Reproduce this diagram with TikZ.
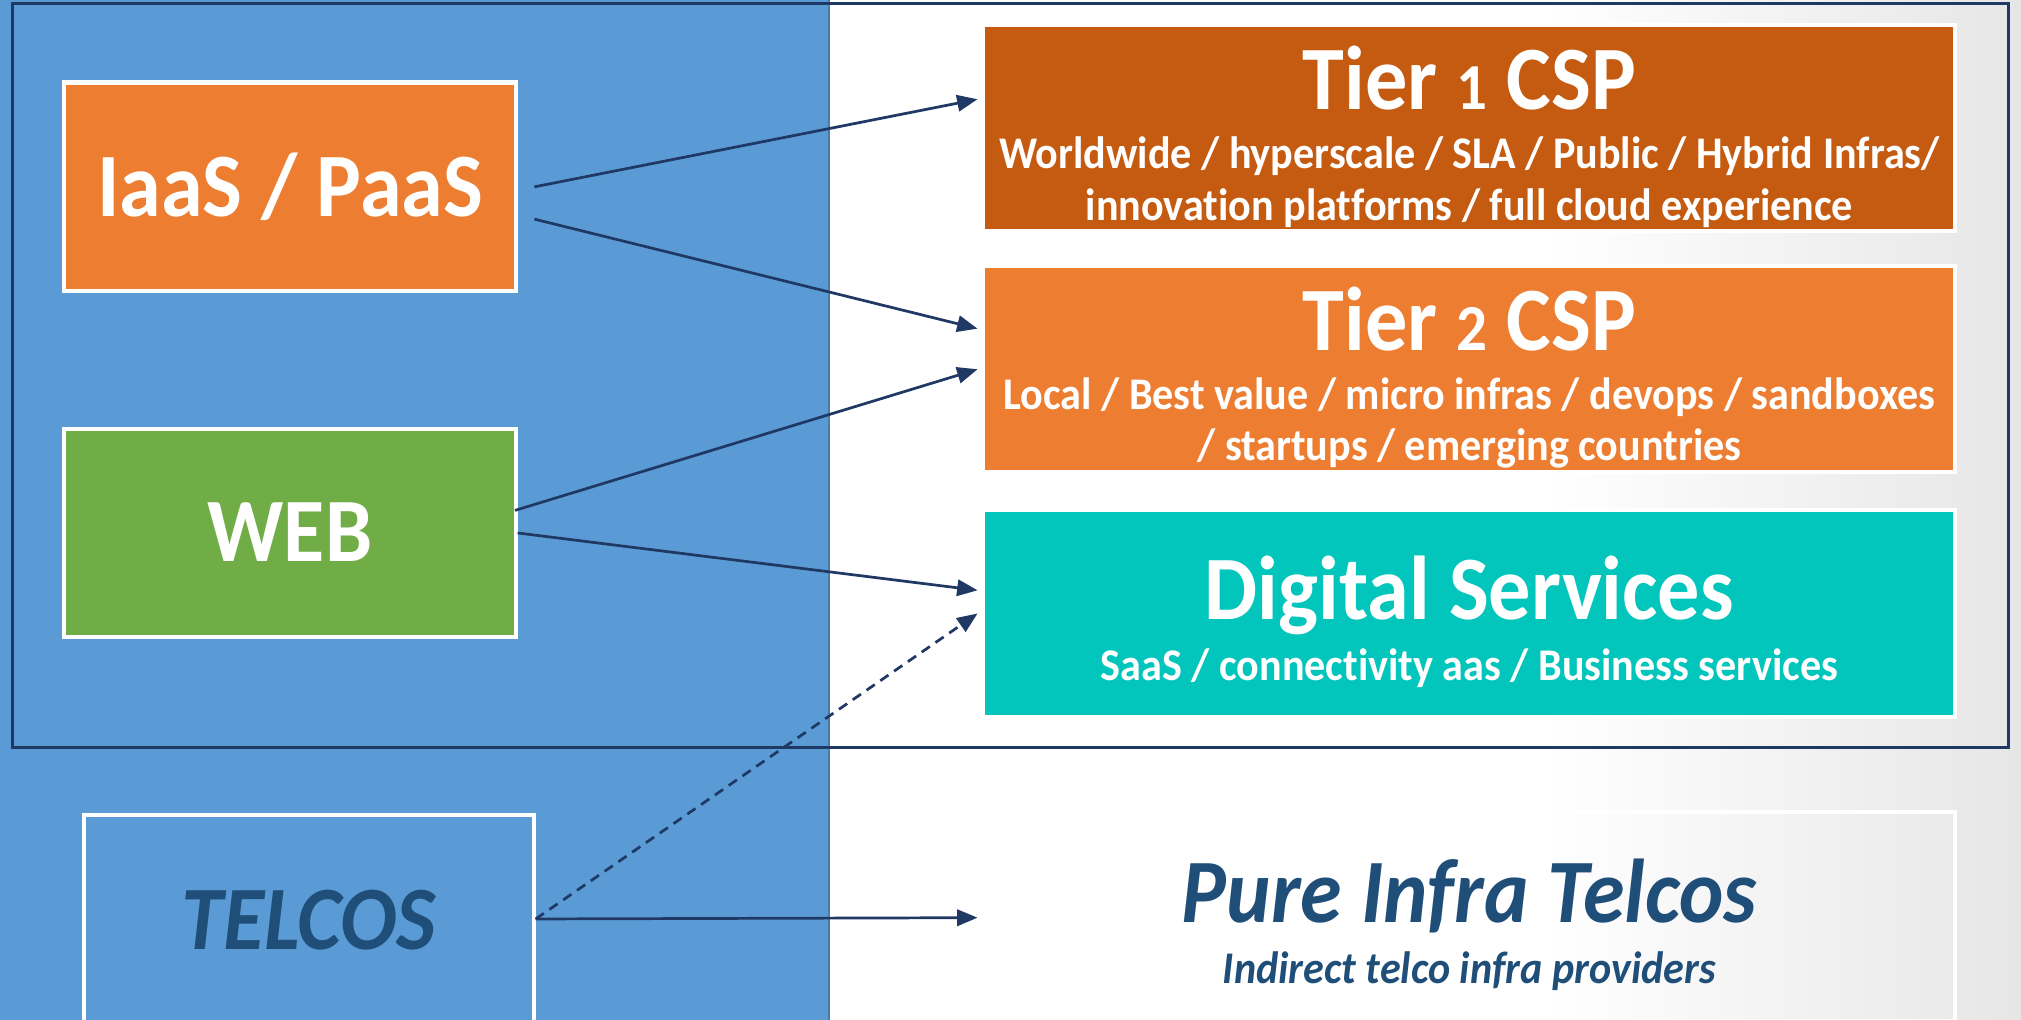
\documentclass[tikz,border=0pt]{standalone}
\usepackage{fontspec}
\setmainfont{Carlito}[FakeStretch=0.93, Ligatures=NoCommon]
\usetikzlibrary{arrows.meta}

\definecolor{panelblue}{HTML}{5B9BD5}
\definecolor{framenavy}{HTML}{1F3864}
\definecolor{textnavy}{HTML}{1F4E79}
\definecolor{rustorange}{HTML}{C55A11}
\definecolor{brightorange}{HTML}{ED7D31}
\definecolor{webgreen}{HTML}{70AD47}
\definecolor{digiteal}{HTML}{02C5BC}

\pgfdeclarehorizontalshading{rightfade}{100bp}{color(0bp)=(white); color(55bp)=(white); color(100bp)=(black!22)}

% small digit, as the old style figures of the titles
\newcommand{\tierdigit}[1]{{\fontsize{14.5}{24}\selectfont #1}}

\tikzset{
  box/.style={draw=white, line width=0.9pt, minimum width=35mm, minimum height=16.2mm, inner sep=0pt},
  tierbox/.style={box, minimum width=75.4mm, minimum height=16mm},
  bigtext/.style={text=white, font=\bfseries\fontsize{20}{24}\selectfont, anchor=base, inner sep=0pt},
  smalltext/.style={text=white, font=\bfseries\fontsize{10}{12}\selectfont, anchor=base, inner sep=0pt},
  link/.style={framenavy, line width=0.6pt, -{Triangle[length=4.5pt,width=3.6pt]}},
}

\begin{document}
\begin{tikzpicture}[x=0.1mm, y=-0.1mm]
  % Fix the page size
  \useasboundingbox (0,0) rectangle (1568,791);

  % Draw background panels
  \fill[panelblue] (0,0) rectangle (643,791);
  \shade[shading=rightfade] (643,0) rectangle (1568,791);
  \draw[panelblue!80!black, line width=0.4pt] (643,0) -- (643,791);

  % Draw outer frame
  \draw[framenavy, line width=0.7pt] (10,3) rectangle (1558,580);

  % Left boxes
  \node[box, fill=brightorange] (iaas) at (225,145) {};
  \node[bigtext] (iaas-label) at (225,168) {IaaS / PaaS};

  \node[box, fill=webgreen] (web) at (225,413.5) {};
  \node[bigtext] (web-label) at (225,436) {WEB};

  \node[box, fill=panelblue, minimum width=34.9mm] (telcos) at (239.5,713) {};
  \node[bigtext, text=textnavy, font=\bfseries\itshape\fontsize{20}{24}\selectfont] (telcos-label) at (239.5,737) {TELCOS};

  % Right boxes
  \node[tierbox, fill=rustorange] (tier1) at (1140,99.5) {};
  \node[bigtext] (tier1-title) at (1140,85) {Tier \tierdigit{1} CSP};
  \node[smalltext] (tier1-line1) at (1140,131) {Worldwide / hyperscale / SLA / Public / Hybrid Infras/};
  \node[smalltext] (tier1-line2) at (1140,171) {innovation platforms / full cloud experience};

  \node[tierbox, fill=brightorange] (tier2) at (1140,286.5) {};
  \node[bigtext] (tier2-title) at (1140,272) {Tier \tierdigit{2} CSP};
  \node[smalltext] (tier2-line1) at (1140,318) {Local / Best value / micro infras / devops / sandboxes};
  \node[smalltext] (tier2-line2) at (1140,357) {/ startups / emerging countries};

  \node[tierbox, fill=digiteal] (digital) at (1140,476) {};
  \node[bigtext] (digital-title) at (1140,481) {Digital Services};
  \node[smalltext] (digital-line1) at (1140,528) {SaaS / connectivity aas / Business services};

  \node[tierbox, minimum height=16.2mm] (pure) at (1140,711) {};
  \node[bigtext, text=textnavy, font=\bfseries\itshape\fontsize{20}{24}\selectfont] (pure-title) at (1140,716) {Pure Infra Telcos};
  \node[smalltext, text=textnavy, font=\bfseries\itshape\fontsize{10}{12}\selectfont] (pure-line1) at (1140,763) {Indirect telco infra providers};

  % Draw arrows
  \draw[link] ([shift={(13,0)}]iaas.east) -- ([shift={(-3,-22.5)}]tier1.west);
  \draw[link] ([shift={(13,25)}]iaas.east) -- ([shift={(-3,-31.5)}]tier2.west);
  \draw[link] ([shift={(-2,-17.5)}]web.east) -- ([shift={(-3,0)}]tier2.west);
  \draw[link] (web.east) -- ([shift={(-3,-18)}]digital.west);
  \draw[link, dash pattern=on 2.2pt off 1.5pt] (telcos.east) -- ([shift={(-3,0)}]digital.west);
  \draw[link] (telcos.east) -- ([shift={(-3,1)}]pure.west);
\end{tikzpicture}
\end{document}
